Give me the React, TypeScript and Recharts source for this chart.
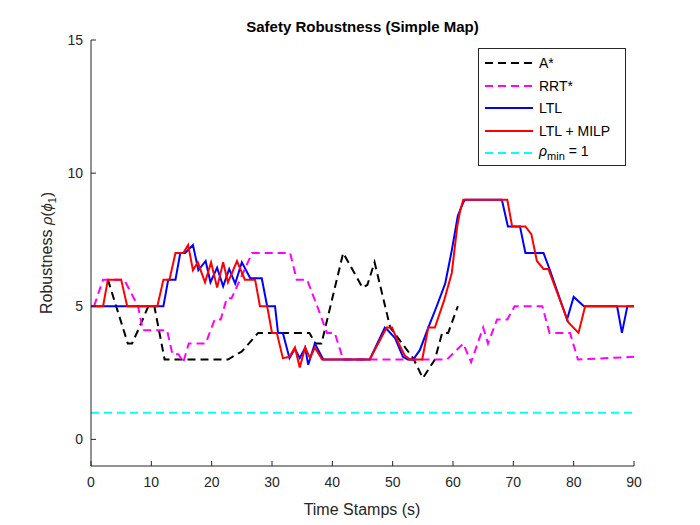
import { LineChart, Line, XAxis, YAxis, Legend, Label } from 'recharts';

// time stamps / robustness values
const aStarT = [2.8, 6.1, 6.8, 8, 9.5, 10.5, 12.2, 22.7, 25, 27.7, 36.2, 37.2, 38.2, 41.8, 45, 45.8, 47, 49.6, 53.4, 55, 57, 58.2, 59.2, 60.8];
const aStarV = [6, 3.6, 3.6, 4.2, 5, 5, 3, 3, 3.3, 4, 4, 3.6, 3.6, 7, 5.7, 5.8, 6.65, 4.2, 3.05, 2.3, 3, 4, 4, 5];

const rrtT = [0.5, 2, 5.5, 7.8, 8.6, 12.6, 13.5, 14.5, 15.3, 16.2, 19, 20.5, 21.5, 22.5, 23.3, 26.7, 33, 34.1, 35.8, 37.5, 39.1, 40.4, 41.8, 59, 61.7, 63, 65, 65.8, 67.3, 69, 70.2, 74.8, 76, 79.4, 80.7, 90];
const rrtV = [5, 6, 6, 5, 4.1, 4.1, 3.2, 3.2, 2.9, 3.6, 3.6, 4.5, 4.5, 5.3, 5.3, 7, 7, 6, 6, 5, 4, 4, 3, 3, 3.6, 2.9, 4.2, 3.6, 4.5, 4.5, 5, 5, 4, 4, 3, 3.1];

const ltlT = [0, 12, 12.8, 14, 14.8, 15.6, 16.9, 17.8, 19, 19.8, 20.9, 21.9, 22.9, 23.9, 25, 26.4, 28.3, 29.2, 30.5, 31, 31.8, 32.9, 33.8, 34.6, 35.5, 36, 37.1, 38.5, 46.2, 48.7, 49.2, 50.4, 51.7, 52.5, 53.4, 54.5, 55.9, 57.3, 58.7, 59.8, 60.8, 61.7, 62, 68.1, 69.1, 71.1, 72, 75, 76, 78.9, 80, 81.7, 87.2, 88, 88.9, 90];
const ltlV = [5, 5, 6, 6, 7, 7, 7.3, 6.35, 6.7, 5.9, 6.45, 5.75, 6.4, 5.85, 6.65, 6.05, 6.05, 5, 5, 4, 4, 3.05, 3.4, 3.05, 3.45, 2.8, 3.6, 3, 3, 4.2, 4.1, 3.8, 3.1, 3.0, 3.0, 3.35, 4.2, 5.0, 5.85, 7.1, 8.4, 8.9, 9, 9, 8, 8, 7, 7, 6.4, 4.5, 5.35, 5, 5, 4, 5, 5];

const milpT = [0, 2, 2.8, 5, 6, 11, 12, 13, 14, 15.3, 16.1, 16.9, 17.7, 18.9, 19.9, 20.9, 21.9, 22.7, 24.2, 25.5, 27.2, 28, 29.2, 30, 30.8, 31.8, 32.9, 33.8, 34.6, 35.5, 36.3, 37.1, 38.3, 46.2, 49, 49.9, 51, 52, 52.9, 54.9, 55.9, 57, 58.5, 59.8, 60.7, 61.2, 61.7, 69, 69.8, 72, 73, 73.9, 75, 75.8, 79.1, 80.8, 81.9, 90];
const milpV = [5, 5, 6, 6, 5, 5, 6, 6, 7, 7, 7.3, 6.35, 6.65, 5.9, 6.65, 5.7, 6.65, 5.9, 6.7, 6.0, 6.0, 5, 5, 4, 4, 3.05, 3.1, 3.45, 2.7, 3.45, 3.05, 3.45, 3, 3, 4.2, 4.2, 3.6, 3.15, 3.0, 3.0, 4.2, 4.2, 5.2, 6.25, 8.0, 8.6, 9, 9, 8, 8, 7.7, 6.7, 6.4, 6.4, 4.4, 4.0, 5, 5];

const rhoMinT = [0, 90];
const rhoMinV = [1, 1];

const xTicks = [0, 10, 20, 30, 40, 50, 60, 70, 80, 90];
const yTicks = [0, 5, 10, 15];

const zip = (t: number[], v: number[]) => t.map((x, i) => ({ t: x, v: v[i] }));

const FONT = '"Liberation Sans", Arial, Helvetica, sans-serif';
const AXIS = '#262626';

function YTitle() {
  return (
    <text x={52} y={253} transform="rotate(-90 52 253)" textAnchor="middle" fontSize={16} fill={AXIS} fontFamily={FONT}>
      <tspan>Robustness </tspan>
      <tspan fontStyle="italic" fontSize={15}>ρ</tspan>
      <tspan fontSize={15}>(</tspan>
      <tspan fontStyle="italic" fontSize={15}>ϕ</tspan>
      <tspan fontSize={11} dy={4}>1</tspan>
      <tspan fontSize={15} dy={-4}>)</tspan>
    </text>
  );
}

function XTitle() {
  return (
    <text x={362} y={515} textAnchor="middle" fontSize={16} fill={AXIS} fontFamily={FONT}>
      Time Stamps (s)
    </text>
  );
}

function Sample({ color, dash }: { color: string; dash?: string }) {
  return (
    <svg width={50} height={10} style={{ display: 'block', marginRight: 5 }}>
      <line x1={1} y1={5} x2={49} y2={5} stroke={color} strokeWidth={2} strokeDasharray={dash} />
    </svg>
  );
}

function LegendBox() {
  const row = { display: 'flex', alignItems: 'center', height: 22.5 } as const;
  return (
    <div
      style={{
        boxSizing: 'border-box',
        width: 148,
        height: 118,
        border: `1px solid ${AXIS}`,
        background: '#fff',
        padding: '3px 0 0 5px',
        fontFamily: FONT,
        fontSize: 14,
        color: '#000',
        lineHeight: 1,
      }}
    >
      <div style={row}><Sample color="#000000" dash="8 5" />A*</div>
      <div style={row}><Sample color="#ff00ff" dash="8 5" />RRT*</div>
      <div style={row}><Sample color="#0000ff" />LTL</div>
      <div style={row}><Sample color="#ff0000" />LTL + MILP</div>
      <div style={row}>
        <Sample color="#00ffff" dash="8 5" />
        <span><i>ρ</i><sub style={{ fontSize: 11 }}>min</sub> = 1</span>
      </div>
    </div>
  );
}

export default function App() {
  return (
    <div style={{ position: 'absolute', left: 0, top: 0, width: 700, height: 525, background: '#fff' }}>
      <LineChart width={700} height={525} margin={{ top: 40, right: 66, bottom: 29, left: 31 }}>
        <XAxis
          dataKey="t"
          type="number"
          domain={[0, 90]}
          ticks={xTicks}
          allowDuplicatedCategory={false}
          height={30}
          stroke={AXIS}
          tickSize={-5}
          tickMargin={16}
          tick={{ fill: AXIS, fontSize: 14, fontFamily: FONT }}
          interval={0}
        >
          <Label content={XTitle} />
        </XAxis>
        <YAxis
          type="number"
          domain={[-1, 15]}
          ticks={yTicks}
          width={60}
          stroke={AXIS}
          tickSize={-5}
          tickMargin={13}
          tick={{ fill: AXIS, fontSize: 14, fontFamily: FONT }}
          interval={0}
        >
          <Label content={YTitle} />
        </YAxis>
        <Legend
          layout="horizontal"
          verticalAlign="middle"
          align="center"
          content={LegendBox}
          wrapperStyle={{ left: 478, top: 48, width: 148, height: 118 }}
        />
        <Line data={zip(aStarT, aStarV)} dataKey="v" name="A*" stroke="#000000" strokeWidth={2} strokeDasharray="8 5" dot={false} isAnimationActive={false} />
        <Line data={zip(rrtT, rrtV)} dataKey="v" name="RRT*" stroke="#ff00ff" strokeWidth={2} strokeDasharray="8 5" dot={false} isAnimationActive={false} />
        <Line data={zip(ltlT, ltlV)} dataKey="v" name="LTL" stroke="#0000ff" strokeWidth={2} dot={false} isAnimationActive={false} />
        <Line data={zip(milpT, milpV)} dataKey="v" name="LTL + MILP" stroke="#ff0000" strokeWidth={2} dot={false} isAnimationActive={false} />
        <Line data={zip(rhoMinT, rhoMinV)} dataKey="v" name="rho_min = 1" stroke="#00ffff" strokeWidth={2} strokeDasharray="8 5" dot={false} isAnimationActive={false} />
      </LineChart>
      <div
        style={{
          position: 'absolute',
          left: 91,
          width: 543,
          top: 19,
          textAlign: 'center',
          fontFamily: FONT,
          fontWeight: 'bold',
          fontSize: 15,
          lineHeight: '15px',
          color: '#000',
        }}
      >
        Safety Robustness (Simple Map)
      </div>
    </div>
  );
}
